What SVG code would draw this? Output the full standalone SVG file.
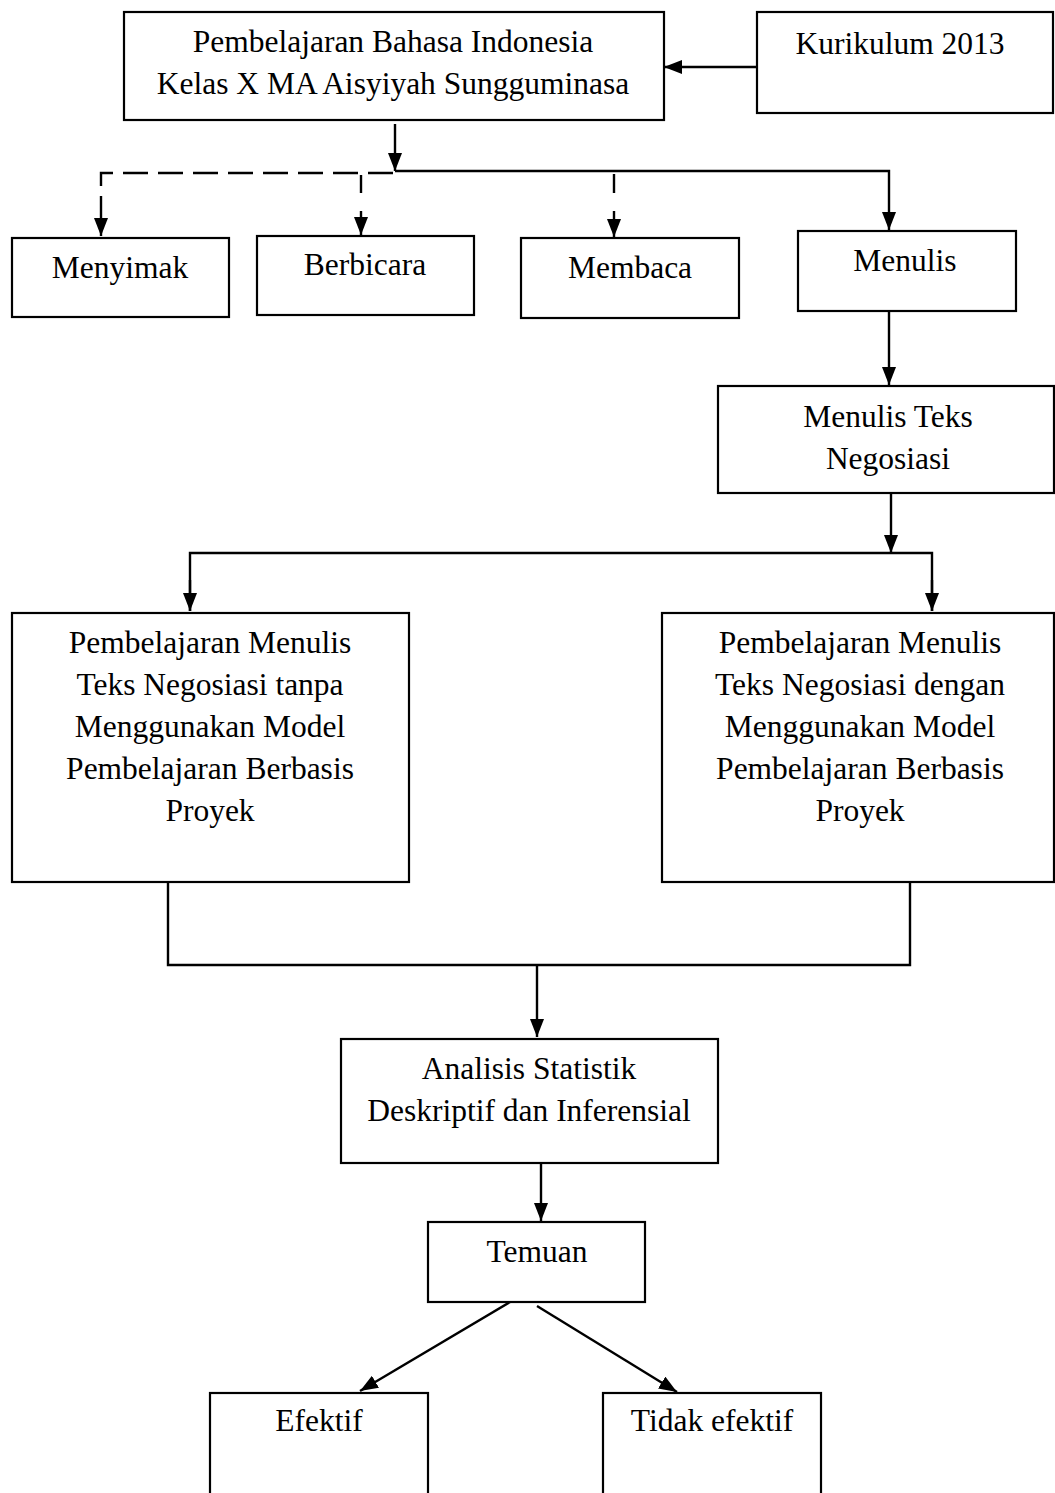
<svg xmlns="http://www.w3.org/2000/svg" width="1055" height="1493" viewBox="0 0 1055 1493">
<style>
.box{fill:#fff;stroke:#000;stroke-width:2.2}
.t{font-family:"Liberation Serif","Times New Roman",serif;font-size:31.5px;fill:#000;text-anchor:middle}
.ln{fill:none;stroke:#000;stroke-width:2.4}
.dash{fill:none;stroke:#000;stroke-width:2.4;stroke-dasharray:25 10}
</style>
<defs>
<marker id="ah" markerUnits="userSpaceOnUse" markerWidth="19" markerHeight="14" refX="18" refY="7" orient="auto">
<path d="M0,0 L18,7 L0,14 z" fill="#000"/>
</marker>
</defs>
<rect width="1055" height="1493" fill="#fff"/>
<g id="connectors">
<line class="ln" x1="757" y1="67" x2="664" y2="67" marker-end="url(#ah)"/>
<line class="ln" x1="395" y1="124" x2="395" y2="171" marker-end="url(#ah)"/>
<polyline class="ln" points="395,171 889,171 889,230" marker-end="url(#ah)"/>
<polyline class="dash" points="393,173 101,173 101,236" marker-end="url(#ah)"/>
<line class="ln" x1="361" y1="175" x2="361" y2="193"/>
<line class="ln" x1="361" y1="211" x2="361" y2="235" marker-end="url(#ah)"/>
<line class="ln" x1="614" y1="174" x2="614" y2="193"/>
<line class="ln" x1="614" y1="211" x2="614" y2="237" marker-end="url(#ah)"/>
<line class="ln" x1="889" y1="311" x2="889" y2="385" marker-end="url(#ah)"/>
<line class="ln" x1="891" y1="493" x2="891" y2="553" marker-end="url(#ah)"/>
<polyline class="ln" points="190,611 190,553 932,553 932,611"/>
<line class="ln" x1="190" y1="580" x2="190" y2="611" marker-end="url(#ah)"/>
<line class="ln" x1="932" y1="580" x2="932" y2="611" marker-end="url(#ah)"/>
<polyline class="ln" points="168,882 168,965 910,965 910,882"/>
<line class="ln" x1="537" y1="965" x2="537" y2="1037" marker-end="url(#ah)"/>
<line class="ln" x1="541" y1="1163" x2="541" y2="1221" marker-end="url(#ah)"/>
<line class="ln" x1="510" y1="1302" x2="360" y2="1391" marker-end="url(#ah)"/>
<line class="ln" x1="537" y1="1306" x2="677" y2="1392" marker-end="url(#ah)"/>
</g>
<g id="node-pembelajaran">
<rect class="box" x="124" y="12" width="540" height="108"/>
<text class="t" x="393" y="52">Pembelajaran Bahasa Indonesia</text>
<text class="t" x="393" y="94">Kelas X MA Aisyiyah Sungguminasa</text>
</g>
<g id="node-kurikulum">
<rect class="box" x="757" y="12" width="296" height="101"/>
<text class="t" x="900" y="54">Kurikulum 2013</text>
</g>
<g id="node-menyimak">
<rect class="box" x="12" y="238" width="217" height="79"/>
<text class="t" x="120" y="278">Menyimak</text>
</g>
<g id="node-berbicara">
<rect class="box" x="257" y="236" width="217" height="79"/>
<text class="t" x="365" y="275">Berbicara</text>
</g>
<g id="node-membaca">
<rect class="box" x="521" y="238" width="218" height="80"/>
<text class="t" x="630" y="278">Membaca</text>
</g>
<g id="node-menulis">
<rect class="box" x="798" y="231" width="218" height="80"/>
<text class="t" x="905" y="271">Menulis</text>
</g>
<g id="node-menulis-teks">
<rect class="box" x="718" y="386" width="336" height="107"/>
<text class="t" x="888" y="427">Menulis Teks</text>
<text class="t" x="888" y="469">Negosiasi</text>
</g>
<g id="node-tanpa">
<rect class="box" x="12" y="613" width="397" height="269"/>
<text class="t" x="210" y="653">Pembelajaran Menulis</text>
<text class="t" x="210" y="695">Teks Negosiasi tanpa</text>
<text class="t" x="210" y="737">Menggunakan Model</text>
<text class="t" x="210" y="779">Pembelajaran Berbasis</text>
<text class="t" x="210" y="821">Proyek</text>
</g>
<g id="node-dengan">
<rect class="box" x="662" y="613" width="392" height="269"/>
<text class="t" x="860" y="653">Pembelajaran Menulis</text>
<text class="t" x="860" y="695">Teks Negosiasi dengan</text>
<text class="t" x="860" y="737">Menggunakan Model</text>
<text class="t" x="860" y="779">Pembelajaran Berbasis</text>
<text class="t" x="860" y="821">Proyek</text>
</g>
<g id="node-analisis">
<rect class="box" x="341" y="1039" width="377" height="124"/>
<text class="t" x="529" y="1079">Analisis Statistik</text>
<text class="t" x="529" y="1121">Deskriptif dan Inferensial</text>
</g>
<g id="node-temuan">
<rect class="box" x="428" y="1222" width="217" height="80"/>
<text class="t" x="537" y="1262">Temuan</text>
</g>
<g id="node-efektif">
<rect class="box" x="210" y="1393" width="218" height="110"/>
<text class="t" x="319" y="1431">Efektif</text>
</g>
<g id="node-tidak-efektif">
<rect class="box" x="603" y="1393" width="218" height="110"/>
<text class="t" x="712" y="1431">Tidak efektif</text>
</g>
</svg>
